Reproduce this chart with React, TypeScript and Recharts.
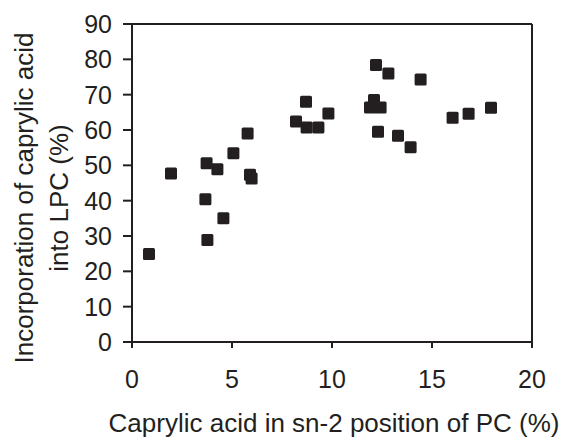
import { ScatterChart, Scatter, XAxis, YAxis, ReferenceLine, Label } from "recharts";

const sn2Caprylic = [0.85, 1.95, 3.67, 3.73, 3.77, 4.27, 4.57, 5.07, 5.78, 5.9, 5.98, 8.2, 8.7, 8.73, 9.32, 9.82, 11.9, 12.1, 12.2, 12.43, 12.3, 12.82, 13.3, 13.93, 14.43, 16.03, 16.83, 17.95];
const lpcIncorporation = [24.9, 47.7, 40.4, 50.6, 28.9, 48.9, 35, 53.4, 59, 47.3, 46.3, 62.4, 68, 60.7, 60.7, 64.7, 66.4, 68.5, 78.4, 66.4, 59.5, 76, 58.4, 55.1, 74.3, 63.5, 64.6, 66.3];
const xTicks = [0, 5, 10, 15, 20];
const yTicks = [0, 10, 20, 30, 40, 50, 60, 70, 80, 90];

const ink = "#231f20";
const font = "'Liberation Sans', Arial, sans-serif";

const data = sn2Caprylic.map((x, i) => ({ x, y: lpcIncorporation[i] }));

const Square = (props: any) => {
  const { cx, cy } = props;
  return <rect x={cx - 6} y={cy - 6} width={12} height={12} rx={1.5} fill={ink} />;
};

const YTitle = (props: any) => {
  const { x, y, height } = props.viewBox;
  const cy = y + height / 2 + 15;
  return (
    <g fontFamily={font} fontSize={26} fill={ink}>
      <text transform={`translate(${x + 33}, ${cy}) rotate(-90)`} textAnchor="middle">
        Incorporation of caprylic acid
      </text>
      <text transform={`translate(${x + 68}, ${cy}) rotate(-90)`} textAnchor="middle">
        into LPC (%)
      </text>
    </g>
  );
};

const XTitle = (props: any) => {
  const { x, y, width } = props.viewBox;
  return (
    <text x={x + width / 2 + 2} y={y + 90} textAnchor="middle" fontFamily={font} fontSize={26} fill={ink}>
      Caprylic acid in sn-2 position of PC (%)
    </text>
  );
};

export default function App() {
  return (
    <div style={{ position: "absolute", left: 0, top: 0, background: "#fff" }}>
      <ScatterChart width={562} height={439} margin={{ top: 24, right: 30, left: 0, bottom: 0 }}>
        <XAxis
          type="number"
          dataKey="x"
          domain={[0, 20]}
          ticks={xTicks}
          height={97}
          tickSize={6}
          tickMargin={22}
          stroke={ink}
          strokeWidth={2}
          tick={{ fill: ink, fontSize: 25, fontFamily: font }}
        >
          <Label content={<XTitle />} />
        </XAxis>
        <YAxis
          type="number"
          dataKey="y"
          domain={[0, 90]}
          ticks={yTicks}
          width={132}
          tickSize={9}
          tickMargin={11}
          stroke={ink}
          strokeWidth={2}
          tick={{ fill: ink, fontSize: 25, fontFamily: font }}
        >
          <Label content={<YTitle />} />
        </YAxis>
        <ReferenceLine y={90} stroke={ink} strokeWidth={2} />
        <ReferenceLine x={20} stroke={ink} strokeWidth={2} />
        <Scatter data={data} shape={<Square />} isAnimationActive={false} />
      </ScatterChart>
    </div>
  );
}
